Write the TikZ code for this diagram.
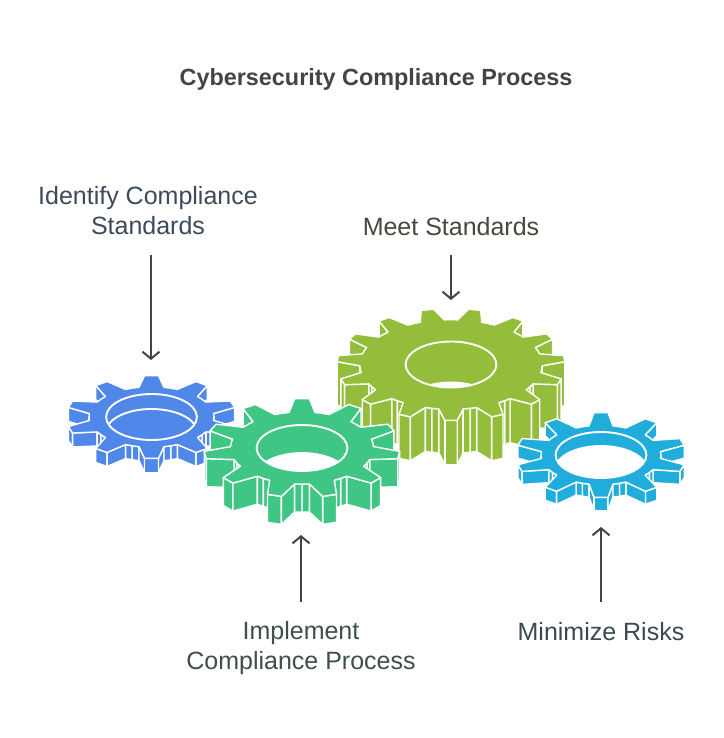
\documentclass[tikz,border=0pt]{standalone}
\usepackage{fontspec}
\setmainfont{Liberation Sans}
\usetikzlibrary{arrows.meta,calc}
\definecolor{cblue}{HTML}{4F88E8}
\definecolor{cgreen}{HTML}{3FC685}
\definecolor{colive}{HTML}{93BD3A}
\definecolor{ccyan}{HTML}{20ADDC}
\definecolor{tdark}{HTML}{444444}
\definecolor{tid}{HTML}{3D4A5C}
\definecolor{tmeet}{HTML}{46493A}
\definecolor{timp}{HTML}{3F4F4A}
\definecolor{tmin}{HTML}{3A4A50}
\tikzset{
  wallface/.style={line width=1.4pt,draw=white,line join=round},
  topface/.style={line width=1.4pt,draw=white,line join=round},
  holeline/.style={line width=1.9pt,draw=white},
  lbl/.style={font=\fontsize{25}{30}\selectfont,align=center,inner sep=0pt},
  arr/.style={line width=2pt,draw=tdark,-{Straight Barb[length=7pt,width=17pt,line width=2pt]}}
}
% current gear parameters
\newcommand\setgear[9]{\def\gcx{#1}\def\gcy{#2}\def\grx{#3}\def\gry{#4}\def\gn{#5}\def\goff{#6}\def\gh{#7}\def\groot{#8}\def\gcol{#9}%
  \pgfmathsetmacro\gp{360/\gn}\pgfmathsetmacro\gtw{0.13*\gp}\pgfmathsetmacro\gbw{0.32*\gp}\pgfmathsetmacro\ghp{0.5*\gp}}
% one wall quad, skipped if it faces away
\newcommand\wallseg[4]{%
  \pgfmathsetmacro\xa{\gcx+(#2)*\grx*cos(#1)}\pgfmathsetmacro\ya{\gcy-(#2)*\gry*sin(#1)}%
  \pgfmathsetmacro\xb{\gcx+(#4)*\grx*cos(#3)}\pgfmathsetmacro\yb{\gcy-(#4)*\gry*sin(#3)}%
  \pgfmathparse{\xb>\xa?1:0}%
  \ifnum\pgfmathresult=1\relax
    \filldraw[wallface,fill=\gcol] (\xa,\ya) -- (\xb,\yb) -- (\xb,\yb+\gh) -- (\xa,\ya+\gh) -- cycle;
  \fi}
% right side: descending angle
\newcommand\wallsR[1]{%
  \pgfmathsetmacro\aA{#1+\ghp}\pgfmathsetmacro\aB{#1+\gbw}\pgfmathsetmacro\aC{#1+\gtw}%
  \pgfmathsetmacro\aD{#1-\gtw}\pgfmathsetmacro\aE{#1-\gbw}\pgfmathsetmacro\aF{#1-\ghp}%
  \wallseg{\aB}{\groot}{\aA}{\groot}\wallseg{\aC}{1}{\aB}{\groot}\wallseg{\aD}{1}{\aC}{1}%
  \wallseg{\aE}{\groot}{\aD}{1}\wallseg{\aF}{\groot}{\aE}{\groot}}
% left side: ascending angle
\newcommand\wallsL[1]{%
  \pgfmathsetmacro\aA{#1+\ghp}\pgfmathsetmacro\aB{#1+\gbw}\pgfmathsetmacro\aC{#1+\gtw}%
  \pgfmathsetmacro\aD{#1-\gtw}\pgfmathsetmacro\aE{#1-\gbw}\pgfmathsetmacro\aF{#1-\ghp}%
  \wallseg{\aF}{\groot}{\aE}{\groot}\wallseg{\aE}{\groot}{\aD}{1}\wallseg{\aD}{1}{\aC}{1}%
  \wallseg{\aC}{1}{\aB}{\groot}\wallseg{\aB}{\groot}{\aA}{\groot}}
% whole gear: #1 hole shift, #2 colour seen through the hole
\newcommand\drawgear[2]{%
  \pgfmathtruncatemacro\kmax{floor(\gn/2)}%
  \foreach \k in {0,...,\kmax}{%
    \pgfmathsetmacro\ar{90-\goff-\k*\gp}\wallsR{\ar}%
    \pgfmathsetmacro\al{90+\goff+\k*\gp}\wallsL{\al}%
  }%
  \filldraw[topface,fill=\gcol]
    ({\gcx+\groot*\grx*cos(90+\goff-\ghp)},{\gcy-\groot*\gry*sin(90+\goff-\ghp)})
    \foreach \i [evaluate=\i as \ac using 90+\goff+\i*\gp-\gp] in {1,...,\gn}{
      -- ({\gcx+\groot*\grx*cos(\ac-\gbw)},{\gcy-\groot*\gry*sin(\ac-\gbw)})
      -- ({\gcx+\grx*cos(\ac-\gtw)},{\gcy-\gry*sin(\ac-\gtw)})
      -- ({\gcx+\grx*cos(\ac+\gtw)},{\gcy-\gry*sin(\ac+\gtw)})
      -- ({\gcx+\groot*\grx*cos(\ac+\gbw)},{\gcy-\groot*\gry*sin(\ac+\gbw)})
      -- ({\gcx+\groot*\grx*cos(\ac+\ghp)},{\gcy-\groot*\gry*sin(\ac+\ghp)})
    } -- cycle;
  \begin{scope}
    \clip (\gcx,\gcy) ellipse (45.4pt and 23pt);
    \fill[#2] (\gcx,{\gcy+#1}) ellipse (45.4pt and 23pt);
    \draw[holeline] (\gcx,{\gcy+#1}) ellipse (45.4pt and 23pt);
  \end{scope}
  \draw[holeline] (\gcx,\gcy) ellipse (45.4pt and 23pt);
}
\begin{document}
\begin{tikzpicture}[x=1pt,y=-1pt]
\useasboundingbox (0,0) rectangle (723,738);
\fill[white] (0,0) rectangle (723,738);
\setgear{451}{364.5}{114}{56}{15}{12}{44}{0.8}{colive}\drawgear{41}{white}
\setgear{151.5}{417}{85.5}{41.5}{10}{0}{14}{0.73}{cblue}\drawgear{15}{cblue}
\setgear{302}{448}{98}{49.5}{11}{0}{28}{0.73}{cgreen}\drawgear{28}{white}
\setgear{601}{455}{85.5}{42.5}{10}{0}{13}{0.7}{ccyan}\drawgear{14}{white}
\node[font=\fontsize{23.4}{30}\bfseries\selectfont,text=tdark,inner sep=0pt] (title) at (376,79) {Cybersecurity Compliance Process};
\node[lbl,text=tid] (lid) at (148,211) {Identify Compliance\\Standards};
\node[lbl,text=tmeet] (lmeet) at (451,227) {Meet Standards};
\node[lbl,text=timp] (limp) at (301,648) {Implement\\Compliance Process};
\node[lbl,text=tmin] (lmin) at (601,632) {Minimize Risks};
\coordinate (aid) at (151,255); \coordinate (gid) at (151,360);
\coordinate (ameet) at (451,255); \coordinate (gmeet) at (451,300);
\coordinate (aimp) at (301,602); \coordinate (gimp) at (301,535);
\coordinate (amin) at (601,602); \coordinate (gmin) at (601,527);
\draw[arr] (aid) -- (gid);
\draw[arr] (ameet) -- (gmeet);
\draw[arr] (aimp) -- (gimp);
\draw[arr] (amin) -- (gmin);
\end{tikzpicture}
\end{document}
